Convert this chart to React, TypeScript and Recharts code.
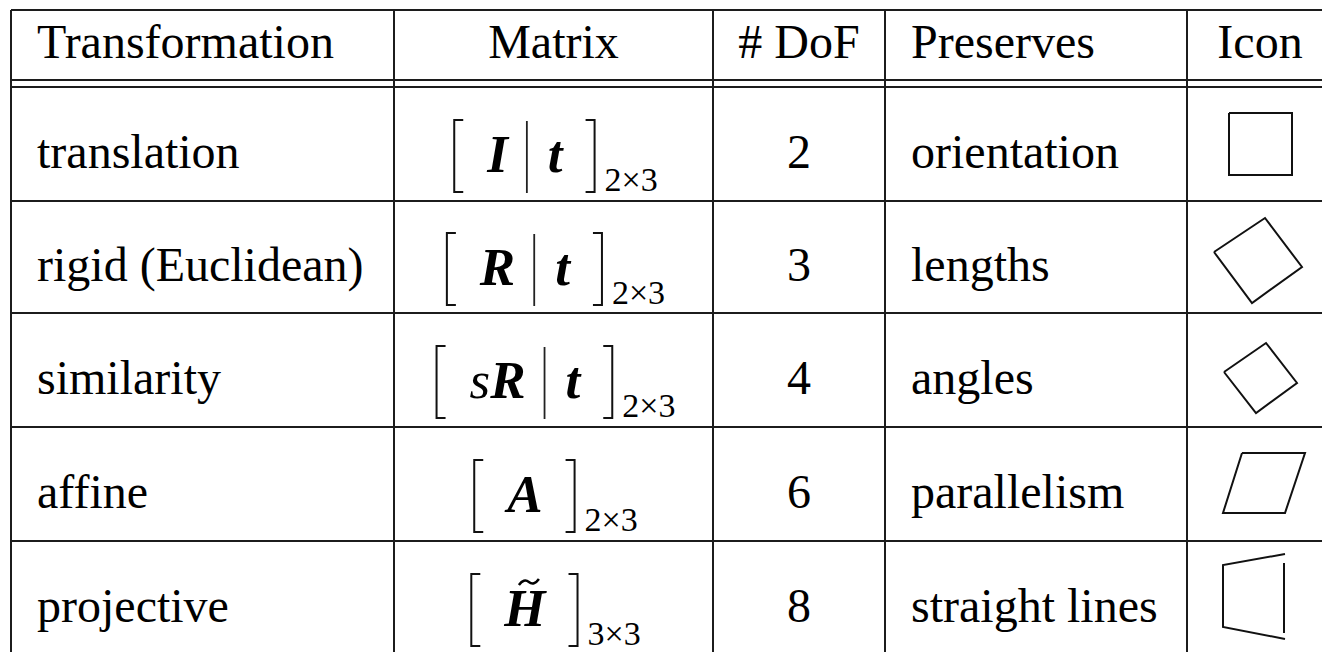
import { ReferenceLine, Scatter, ScatterChart, XAxis, YAxis } from "recharts"

// ─── Table content ──────────────────────────────────────────────────────────

type Glyph = { t: string; bold?: boolean; tilde?: boolean }

const headers = ["Transformation", "Matrix", "# DoF", "Preserves", "Icon"]
const transformations = ["translation", "rigid (Euclidean)", "similarity", "affine", "projective"]
const matrices: Glyph[][][] = [
  [[{ t: "I", bold: true }], [{ t: "t", bold: true }]],
  [[{ t: "R", bold: true }], [{ t: "t", bold: true }]],
  [[{ t: "s" }, { t: "R", bold: true }], [{ t: "t", bold: true }]],
  [[{ t: "A", bold: true }]],
  [[{ t: "H", bold: true, tilde: true }]],
]
const matrixSizes = ["2×3", "2×3", "2×3", "2×3", "3×3"]
const dof = [2, 3, 4, 6, 8]
const preserves = ["orientation", "lengths", "angles", "parallelism", "straight lines"]
const icons = ["square", "rigid", "similarity", "affine", "projective"]

// ─── Layout (pixels, identity scales) ───────────────────────────────────────

const W = 1322
const H = 652
const COL_EDGES = [11, 394, 713, 885, 1187, 1333]
const TOP = 10
const HEAD_BOTTOM = 80
const ROW_EDGES = [87, 201, 313, 427, 541, 655]
const LINE = "#1c1c1c"
const FONT = '"Liberation Serif", "Times New Roman", serif'
const PAD_LEFT = 26

const colCenter = (i: number) => (COL_EDGES[i]! + COL_EDGES[i + 1]!) / 2
const rowCenter = (i: number) => (ROW_EDGES[i]! + ROW_EDGES[i + 1]!) / 2
const headerY = (TOP + HEAD_BOTTOM) / 2
const leftAligned = [true, false, false, true, false]
const cellX = (c: number) => (leftAligned[c] ? COL_EDGES[c]! + PAD_LEFT : colCenter(c))

const headerCells = headers.map((label, c) => ({ x: cellX(c), y: headerY, label, left: leftAligned[c] }))
const nameCells = transformations.map((label, r) => ({ x: cellX(0), y: rowCenter(r), label, left: true }))
const matrixCells = matrices.map((parts, r) => ({ x: colCenter(1), y: rowCenter(r), parts, sub: matrixSizes[r] }))
const dofCells = dof.map((v, r) => ({ x: cellX(2), y: rowCenter(r), label: String(v), left: false }))
const preserveCells = preserves.map((label, r) => ({ x: cellX(3), y: rowCenter(r), label, left: true }))
const iconCells = icons.map((kind, r) => ({ x: colCenter(4), y: rowCenter(r), kind }))

// ─── Text measuring for the matrix layout ──────────────────────────────────

let ctx: CanvasRenderingContext2D | null = null
function measure(text: string, font: string) {
  if (!ctx) ctx = document.createElement("canvas").getContext("2d")
  if (!ctx) return text.length * 25
  ctx.font = font
  return ctx.measureText(text).width
}

// ─── Shapes ─────────────────────────────────────────────────────────────────

function textShape(dy: number) {
  return (p: any) => (
    <text
      x={p.cx}
      y={p.cy + dy}
      textAnchor={p.payload.left ? "start" : "middle"}
      fontFamily={FONT}
      fontSize={48}
      fill="#000"
    >
      {p.payload.label}
    </text>
  )
}

const MATH_SIZE = 53
const SUB_SIZE = 34
const mathFont = (g: Glyph) => `${g.bold ? "bold " : ""}italic ${MATH_SIZE}px ${FONT}`

function MatrixShape(p: any) {
  const { cx, cy, payload } = p
  const parts: Glyph[][] = payload.parts
  const subFont = `${SUB_SIZE}px ${FONT}`
  const widths = parts.map((part) => part.reduce((s, g) => s + measure(g.t, mathFont(g)), 0))
  const subW = measure(payload.sub, subFont)
  const PAD_IN = 33
  const PAD_OUT = 32
  const BAR_L = 19
  const BAR_R = 21
  const SUB_GAP = 10
  const ARM = 9
  const total =
    PAD_IN + widths.reduce((a, b) => a + b, 0) + (BAR_L + BAR_R) * (parts.length - 1) + PAD_OUT + SUB_GAP + subW
  const x0 = cx + 2.5 - total / 2
  const top = cy - 24
  const bottom = cy + 48
  const base = cy + 28

  const items: JSX.Element[] = []
  let x = x0 + PAD_IN
  parts.forEach((part, i) => {
    part.forEach((g, j) => {
      const w = measure(g.t, mathFont(g))
      items.push(
        <text
          key={`g${i}-${j}`}
          x={x}
          y={base}
          fontFamily={FONT}
          fontSize={MATH_SIZE}
          fontStyle="italic"
          fontWeight={g.bold ? "bold" : "normal"}
          fill="#000"
        >
          {g.t}
        </text>,
      )
      if (g.tilde) {
        const tx = x + w / 2 + 4
        const ty = base - 44
        items.push(
          <path
            key={`t${i}-${j}`}
            d={`M ${tx - 10} ${ty + 3} Q ${tx - 5} ${ty - 4} ${tx} ${ty} T ${tx + 10} ${ty - 3}`}
            stroke="#000"
            strokeWidth={2.5}
            fill="none"
          />,
        )
      }
      x += w
    })
    if (i < parts.length - 1) {
      const bx = x + BAR_L
      items.push(<line key={`b${i}`} x1={bx} x2={bx} y1={top + 1} y2={bottom + 1} stroke="#222" strokeWidth={1.8} />)
      x = bx + BAR_R
    }
  })
  const xr = x + PAD_OUT
  return (
    <g>
      <path d={`M ${x0 + ARM} ${top} H ${x0} V ${bottom} H ${x0 + ARM}`} stroke="#111" strokeWidth={2} fill="none" />
      {items}
      <path d={`M ${xr - ARM} ${top} H ${xr} V ${bottom} H ${xr - ARM}`} stroke="#111" strokeWidth={2} fill="none" />
      <text x={xr + SUB_GAP} y={cy + 47} fontFamily={FONT} fontSize={SUB_SIZE} fill="#000">
        {payload.sub}
      </text>
    </g>
  )
}

// icon outlines, relative to the cell centre
const ICON_OUTLINES: Record<string, number[][][]> = {
  square: [[[-31, -31], [32, -31], [32, 31], [-31, 31], [-31, -31]]],
  rigid: [[[-46, -5], [5, -39], [42, 10], [-8, 46], [-46, -5]]],
  similarity: [[[-36, 2], [6, -27], [37, 13], [-4, 43], [-36, 2]]],
  affine: [[[-18, -31], [45, -31], [25, 29], [-37, 29], [-18, -31]]],
  projective: [
    [[25, -44], [-37, -33], [-37, 29], [25, 41]],
    [[24, -35], [24, 35]],
  ],
}

function IconShape(p: any) {
  const { cx, cy, payload } = p
  const outlines = ICON_OUTLINES[payload.kind] ?? []
  return (
    <g>
      {outlines.map((pts, i) => (
        <polyline
          key={i}
          points={pts.map(([dx, dy]) => `${cx + dx!},${cy + dy!}`).join(" ")}
          stroke="#111"
          strokeWidth={2}
          fill="none"
          strokeLinejoin="miter"
        />
      ))}
    </g>
  )
}

// ─── Chart ──────────────────────────────────────────────────────────────────

export default function App() {
  const hLines = [TOP, HEAD_BOTTOM, ...ROW_EDGES.slice(0, -1)]
  const vLines = COL_EDGES.filter((e) => e <= W)

  return (
    <div style={{ position: "absolute", left: 0, top: 0, width: W, height: H, background: "#fff" }}>
      <ScatterChart width={W} height={H} margin={{ top: 0, right: 0, bottom: 0, left: 0 }}>
        <XAxis type="number" dataKey="x" domain={[0, W]} allowDataOverflow hide />
        <YAxis type="number" dataKey="y" domain={[0, H]} allowDataOverflow reversed hide />
        {hLines.map((y) => (
          <ReferenceLine
            key={`h${y}`}
            segment={[
              { x: COL_EDGES[0], y },
              { x: W, y },
            ]}
            stroke={LINE}
            strokeWidth={2}
          />
        ))}
        {vLines.map((x) => (
          <ReferenceLine
            key={`v${x}`}
            segment={[
              { x, y: TOP },
              { x, y: H },
            ]}
            stroke={LINE}
            strokeWidth={2}
          />
        ))}
        <Scatter data={headerCells} shape={textShape(13)} isAnimationActive={false} />
        <Scatter data={nameCells} shape={textShape(24)} isAnimationActive={false} />
        <Scatter data={matrixCells} shape={MatrixShape} isAnimationActive={false} />
        <Scatter data={dofCells} shape={textShape(24)} isAnimationActive={false} />
        <Scatter data={preserveCells} shape={textShape(24)} isAnimationActive={false} />
        <Scatter data={iconCells} shape={IconShape} isAnimationActive={false} />
      </ScatterChart>
    </div>
  )
}
